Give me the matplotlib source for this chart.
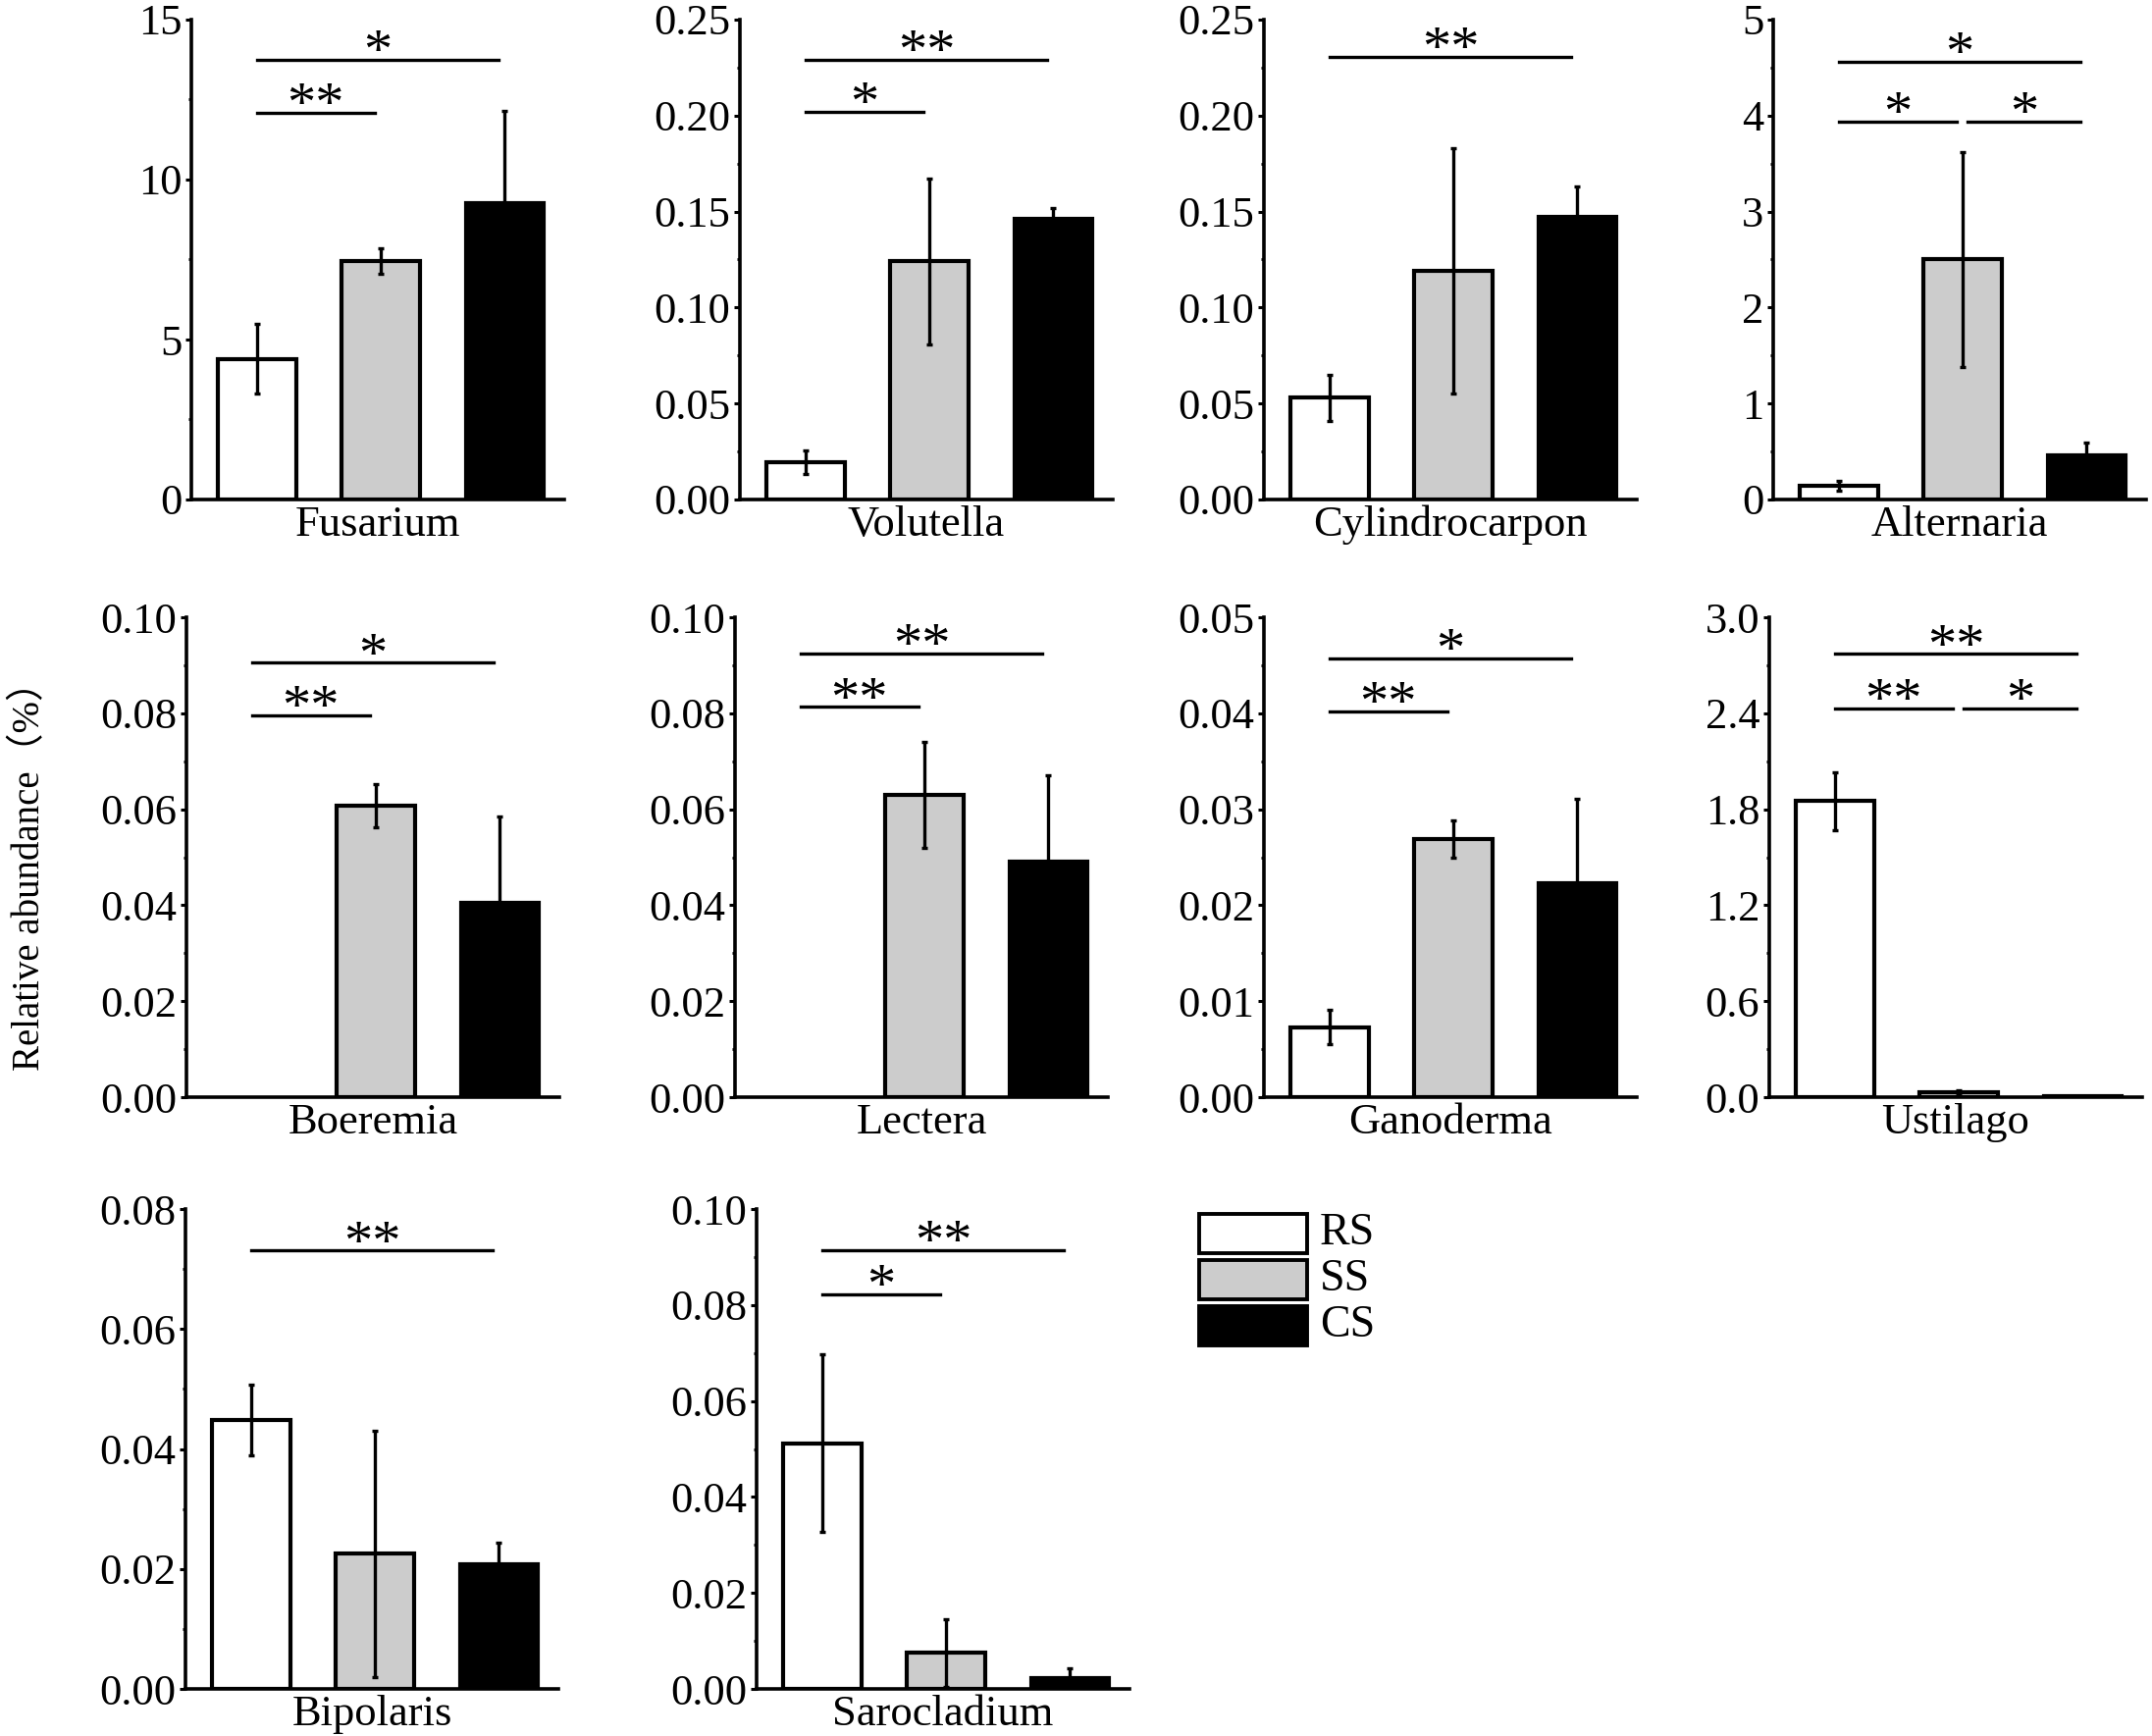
import matplotlib
matplotlib.use("Agg")
import matplotlib.pyplot as plt
from matplotlib.patches import Rectangle
from matplotlib.ticker import AutoMinorLocator, FormatStrFormatter

plt.rcParams['font.family'] = ['Liberation Serif', 'Noto Sans CJK SC', 'DejaVu Sans']

groups = ['RS', 'SS', 'CS']
colors = ['white', '#cccccc', 'black']

genera = ['Fusarium', 'Volutella', 'Cylindrocarpon', 'Alternaria',
          'Boeremia', 'Lectera', 'Ganoderma', 'Ustilago',
          'Bipolaris', 'Sarocladium']

rs_mean = [4.4, 0.0195, 0.053, 0.14, 0.0, 0.0, 0.0073, 1.85, 0.0448, 0.0512]
ss_mean = [7.46, 0.124, 0.119, 2.5, 0.0607, 0.063, 0.0269, 0.03, 0.0225, 0.0075]
cs_mean = [9.27, 0.146, 0.147, 0.46, 0.0405, 0.0491, 0.0223, 0.004, 0.0207, 0.0023]

rs_err = [1.1, 0.006, 0.012, 0.05, 0.0, 0.0, 0.0018, 0.18, 0.0059, 0.0185]
ss_err = [0.4, 0.043, 0.064, 1.12, 0.0045, 0.011, 0.0019, 0.012, 0.0205, 0.007]
cs_err = [2.89, 0.006, 0.016, 0.13, 0.018, 0.018, 0.0088, 0.004, 0.0037, 0.002]

y_max = [15, 0.25, 0.25, 5, 0.10, 0.10, 0.05, 3.0, 0.08, 0.10]
y_step = [5, 0.05, 0.05, 1, 0.02, 0.02, 0.01, 0.6, 0.02, 0.02]
y_fmt = ['%d', '%.2f', '%.2f', '%d', '%.2f', '%.2f', '%.2f', '%.1f', '%.2f', '%.2f']

# significance marks: (from group, to group, height, label)
sig_marks = [
    [(0, 2, 13.75, '*'), (0, 1, 12.1, '**')],
    [(0, 2, 0.229, '**'), (0, 1, 0.202, '*')],
    [(0, 2, 0.2306, '**')],
    [(0, 2, 4.56, '*'), (0, 1, 3.94, '*'), (1, 2, 3.94, '*')],
    [(0, 2, 0.0905, '*'), (0, 1, 0.0796, '**')],
    [(0, 2, 0.0925, '**'), (0, 1, 0.0813, '**')],
    [(0, 2, 0.0457, '*'), (0, 1, 0.0402, '**')],
    [(0, 2, 2.77, '**'), (0, 1, 2.43, '**'), (1, 2, 2.43, '*')],
    [(0, 2, 0.0731, '**')],
    [(0, 2, 0.0914, '**'), (0, 1, 0.0822, '*')],
]

W, H = 2193, 1769
fig = plt.figure(figsize=(W / 100, H / 100), dpi=100)

# axes layout in pixels: (left, top)
ax_left = [195, 754, 1288, 1807, 190, 749, 1288, 1803, 189, 771]
ax_top = [20, 20, 20, 20, 629, 629, 629, 629, 1232, 1232]
ax_w, ax_h = 380, 489

x = [0, 1, 2]
for k, name in enumerate(genera):
    ax = fig.add_axes([ax_left[k] / W, 1 - (ax_top[k] + ax_h) / H, ax_w / W, ax_h / H])
    means = [rs_mean[k], ss_mean[k], cs_mean[k]]
    errs = [rs_err[k], ss_err[k], cs_err[k]]
    # no outline for empty bars (only the axis shows there)
    lws = [3 if m > 0 else 0 for m in means]
    ax.bar(x, means, width=0.63, color=colors, edgecolor='black', linewidth=lws,
           zorder=2)
    shown = [i for i in x if errs[i] > 0]
    ax.errorbar([x[i] for i in shown], [means[i] for i in shown],
                yerr=[errs[i] for i in shown], fmt='none', ecolor='black',
                elinewidth=2.4, capsize=2.5, capthick=2.4, zorder=3)
    ax.set_xlim(-0.53, 2.48)
    ax.set_ylim(0, y_max[k])
    n = int(round(y_max[k] / y_step[k]))
    ax.set_yticks([i * y_step[k] for i in range(n + 1)])
    ax.yaxis.set_major_formatter(FormatStrFormatter(y_fmt[k]))
    ax.yaxis.set_minor_locator(AutoMinorLocator(2))
    ax.set_xticks([])
    ax.spines['top'].set_visible(False)
    ax.spines['right'].set_visible(False)
    ax.spines['left'].set_linewidth(2.6)
    ax.spines['bottom'].set_linewidth(2.6)
    ax.tick_params(axis='y', which='major', direction='out', length=4, width=2.2,
                   labelsize=32, pad=3)
    ax.tick_params(axis='y', which='minor', direction='out', length=2.5, width=2)
    ax.set_xlabel(name, fontsize=32, labelpad=4)

    for i, j, yv, lab in sig_marks[k]:
        x1 = i + (0.04 if i > 0 else 0.0)
        x2 = j - 0.05
        ax.plot([x1, x2], [yv, yv], color='black', lw=2.4, clip_on=False)
        ax.annotate(lab, xy=((x1 + x2) / 2, yv), xytext=(0, -6),
                    textcoords='offset points', ha='center', va='baseline',
                    fontsize=42)

fig.text(31 / W, 1 - 883 / H, 'Relative abundance（%）', rotation=90,
         ha='center', va='center', fontsize=28)

# legend
for i, (lab, col) in enumerate(zip(groups, colors)):
    y0 = 1237 + i * 47
    fig.patches.append(Rectangle((1222 / W, 1 - (y0 + 40) / H), 110 / W, 40 / H,
                                 transform=fig.transFigure, facecolor=col,
                                 edgecolor='black', linewidth=2.8))
    fig.text(1345 / W, 1 - (y0 + 20) / H, lab, va='center', ha='left', fontsize=33)

fig.savefig('out.png', dpi=100)
